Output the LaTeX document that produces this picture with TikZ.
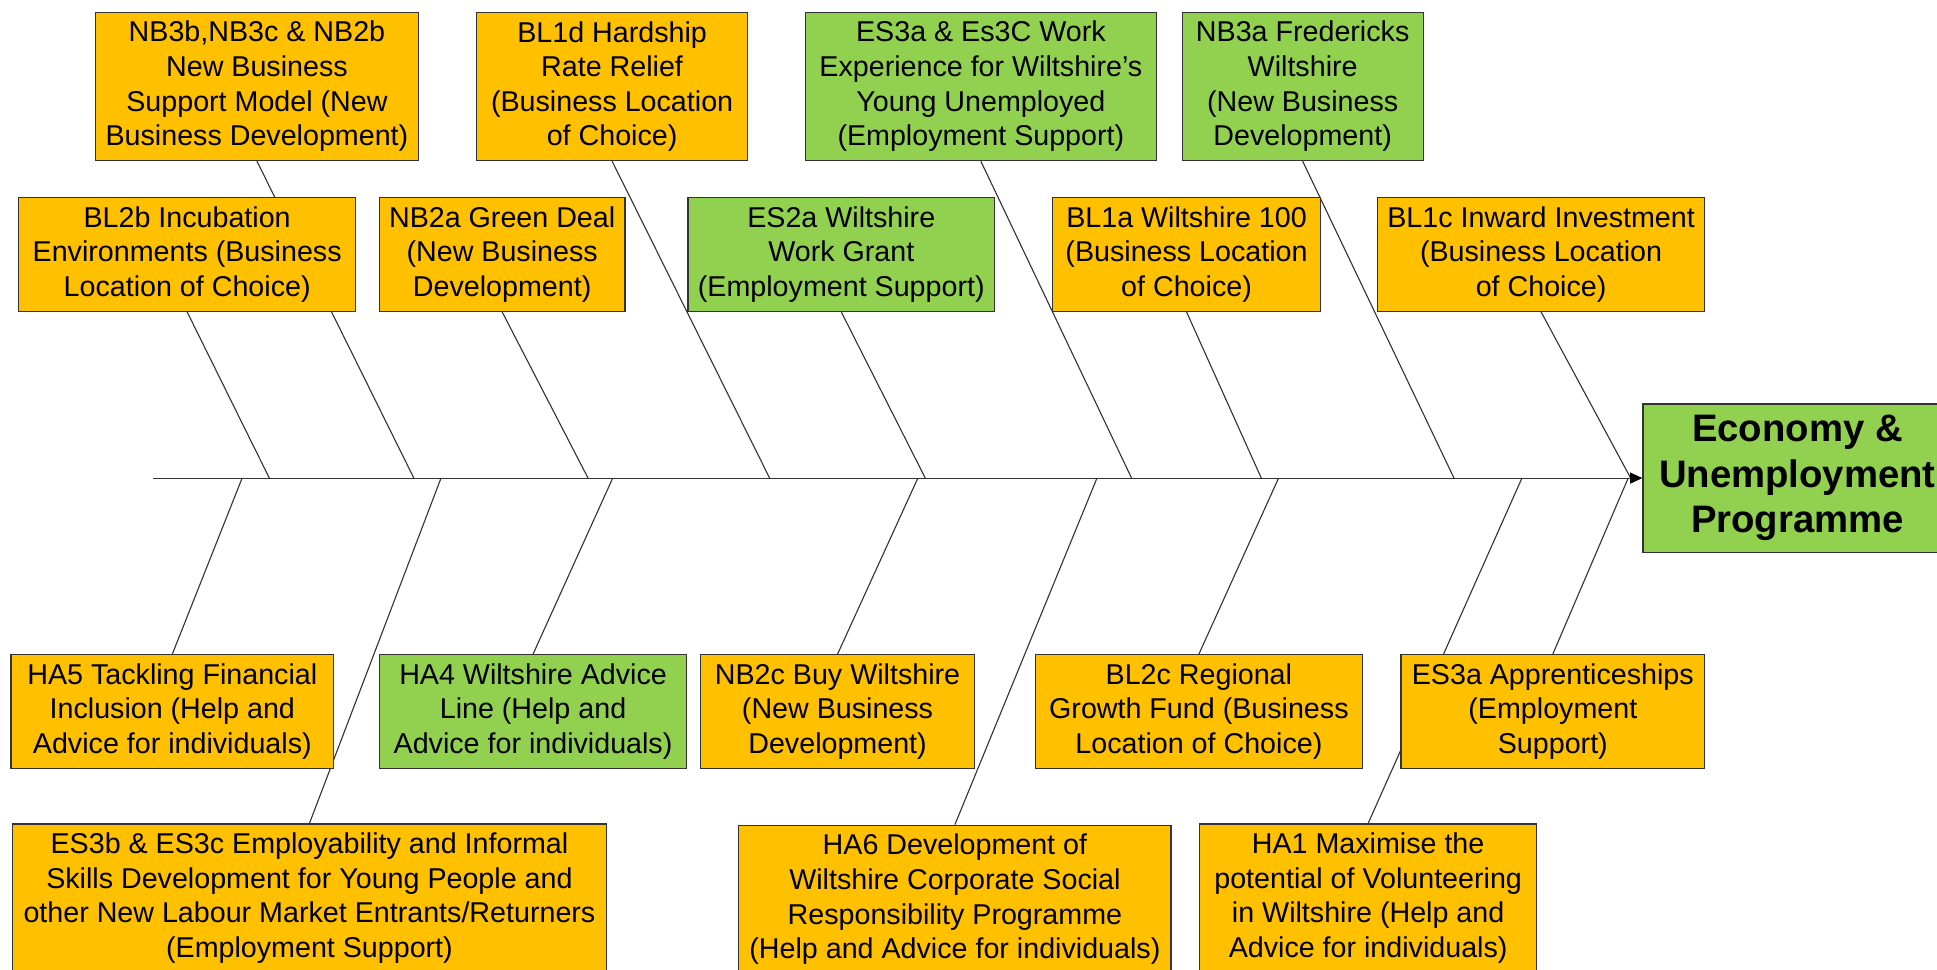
\documentclass[tikz,border=0pt]{standalone}
\usepackage{fontspec}
\setmainfont{Liberation Sans}
\usetikzlibrary{arrows.meta,backgrounds}
\definecolor{boxorange}{HTML}{FFC000}
\definecolor{boxgreen}{HTML}{92D050}
\definecolor{bonegray}{HTML}{333333}
\begin{document}
\begin{tikzpicture}[x=1bp,y=-1bp,
  box/.style={draw=black!80, line width=1bp, align=center, inner sep=0pt,
    font=\fontsize{23.2bp}{28bp}\selectfont, text=black},
  obox/.style={box, fill=boxorange},
  gbox/.style={box, fill=boxgreen},
  bone/.style={draw=bonegray, line width=0.9bp},
  ]
\useasboundingbox (0,0) rectangle (1568,785);
\clip (0,0) rectangle (1568,785);
% top row 1
\node[obox, minimum width=262bp, minimum height=120bp] (A1) at (208,70) {NB3b,NB3c \& NB2b\\New Business\\Support Model (New\\Business Development)};
\node[obox, minimum width=219bp, minimum height=120bp] (A2) at (495.5,70) {BL1d Hardship\\Rate Relief\\(Business Location\\of Choice)};
\node[gbox, minimum width=284bp, minimum height=120bp] (A3) at (794,70) {ES3a \& Es3C Work\\Experience for Wiltshire’s\\Young Unemployed\\(Employment Support)};
\node[gbox, minimum width=195bp, minimum height=120bp] (A4) at (1054.5,70) {NB3a Fredericks\\Wiltshire\\(New Business\\Development)};
% top row 2
\node[obox, minimum width=273bp, minimum height=92bp] (B1) at (151.5,206) {BL2b Incubation\\Environments (Business\\Location of Choice)};
\node[obox, minimum width=199bp, minimum height=92bp] (B2) at (406.5,206) {NB2a Green Deal\\(New Business\\Development)};
\node[gbox, minimum width=248bp, minimum height=92bp] (B3) at (681,206) {ES2a Wiltshire\\Work Grant\\(Employment Support)};
\node[obox, minimum width=217bp, minimum height=92bp] (B4) at (960.5,206) {BL1a Wiltshire 100\\(Business Location\\of Choice)};
\node[obox, minimum width=265bp, minimum height=92bp] (B5) at (1247.5,206) {BL1c Inward Investment\\(Business Location\\of Choice)};
% head
\node[gbox, minimum width=250bp, minimum height=120bp, font=\fontsize{31bp}{37bp}\selectfont\bfseries] (head) at (1455,387) {Economy \&\\Unemployment\\Programme};
% bottom row 1
\node[obox, minimum width=261bp, minimum height=92bp] (C1) at (139.5,576) {HA5 Tackling Financial\\Inclusion (Help and\\Advice for individuals)};
\node[gbox, minimum width=249bp, minimum height=92bp] (C2) at (431.5,576) {HA4 Wiltshire Advice\\Line (Help and\\Advice for individuals)};
\node[obox, minimum width=222bp, minimum height=92bp] (C3) at (678,576) {NB2c Buy Wiltshire\\(New Business\\Development)};
\node[obox, minimum width=265bp, minimum height=92bp] (C4) at (970.5,576) {BL2c Regional\\Growth Fund (Business\\Location of Choice)};
\node[obox, minimum width=246bp, minimum height=92bp] (C5) at (1257,576) {ES3a Apprenticeships\\(Employment\\Support)};
% bottom row 2
\node[obox, minimum width=481bp, minimum height=120bp] (D1) at (250.5,727) {ES3b \& ES3c Employability and Informal\\Skills Development for Young People and\\other New Labour Market Entrants/Returners\\(Employment Support)};
\node[obox, minimum width=350bp, minimum height=120bp] (D2) at (773,728) {HA6 Development of\\Wiltshire Corporate Social\\Responsibility Programme\\(Help and Advice for individuals)};
\node[obox, minimum width=273bp, minimum height=120bp] (D3) at (1107.5,727) {HA1 Maximise the\\potential of Volunteering\\in Wiltshire (Help and\\Advice for individuals)};
% spine coordinates
\coordinate (spst) at (124,387);
\coordinate (sA1) at (335,387);
\coordinate (sB1) at (218,387);
\coordinate (sB2) at (476,387);
\coordinate (sA2) at (623,387);
\coordinate (sB3) at (749,387);
\coordinate (sA3) at (916,387);
\coordinate (sB4) at (1021,387);
\coordinate (sA4) at (1177,387);
\coordinate (sB5) at (1320,387);
\coordinate (sC1) at (196,387);
\coordinate (sD1) at (357,387);
\coordinate (sC2) at (496,387);
\coordinate (sC3) at (743,387);
\coordinate (sD2) at (888,387);
\coordinate (sC4) at (1035,387);
\coordinate (sD3) at (1232,387);
\coordinate (sC5) at (1318,387);
\begin{scope}[on background layer]
\draw[bone] (A1.south) -- (sA1);
\draw[bone] (B1.south) -- (sB1);
\draw[bone] (B2.south) -- (sB2);
\draw[bone] (A2.south) -- (sA2);
\draw[bone] (B3.south) -- (sB3);
\draw[bone] (A3.south) -- (sA3);
\draw[bone] (B4.south) -- (sB4);
\draw[bone] (A4.south) -- (sA4);
\draw[bone] (B5.south) -- (sB5);
\draw[bone] (C1.north) -- (sC1);
\draw[bone] (D1.north) -- (sD1);
\draw[bone] (C2.north) -- (sC2);
\draw[bone] (C3.north) -- (sC3);
\draw[bone] (D2.north) -- (sD2);
\draw[bone] (C4.north) -- (sC4);
\draw[bone] (D3.north) -- (sD3);
\draw[bone] (C5.north) -- (sC5);
\end{scope}
\draw[bone, -{Triangle[length=10bp,width=9bp,fill=black,color=black]}] (spst) -- (head.west);
\end{tikzpicture}
\end{document}
